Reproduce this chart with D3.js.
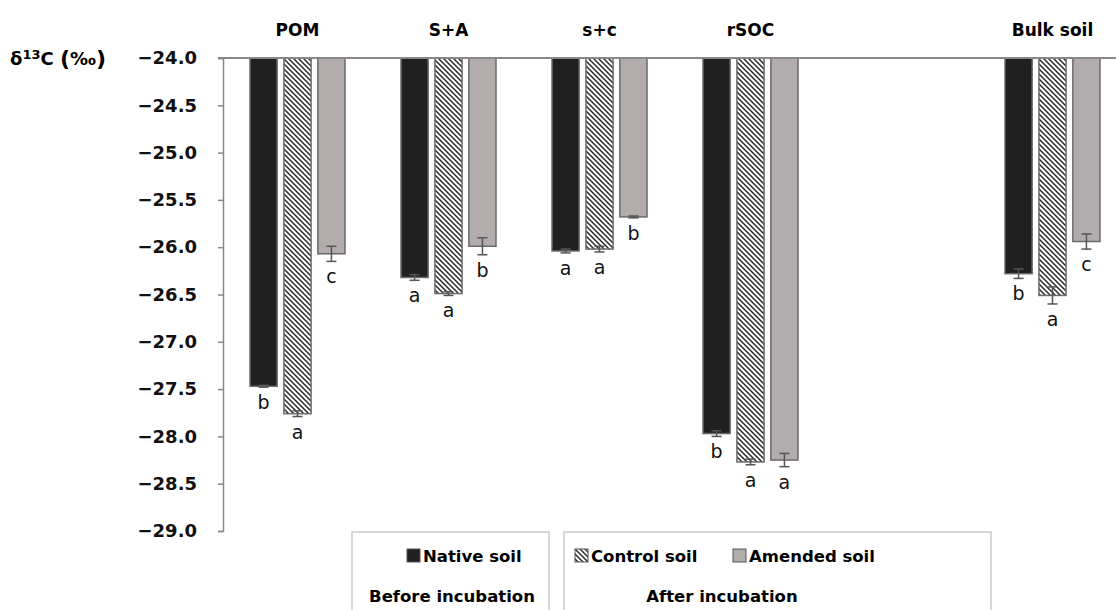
<!DOCTYPE html>
<html>
<head>
<meta charset="utf-8">
<script src="https://cdn.jsdelivr.net/npm/d3@7"></script>
<style>
  body { margin: 0; background: #fff; }
  text { font-family: "DejaVu Sans", Verdana, sans-serif; }
</style>
</head>
<body>
<script>
// Data
const groups = ["POM", "S+A", "s+c", "rSOC", "", "Bulk soil"];
const series = ["Native soil", "Control soil", "Amended soil"];
const native = [-27.47, -26.32, -26.04, -27.97, null, -26.28];
const control = [-27.76, -26.49, -26.02, -28.27, null, -26.51];
const amended = [-26.07, -25.99, -25.68, -28.25, null, -25.94];
const nativeErr = [0.01, 0.03, 0.02, 0.03, null, 0.05];
const controlErr = [0.03, 0.02, 0.03, 0.03, null, 0.09];
const amendedErr = [0.08, 0.09, 0.01, 0.07, null, 0.08];
const nativeLetters = ["b", "a", "a", "b", null, "b"];
const controlLetters = ["a", "a", "a", "a", null, "a"];
const amendedLetters = ["c", "b", "b", "a", null, "c"];
const yTicks = [-24.0, -24.5, -25.0, -25.5, -26.0, -26.5, -27.0, -27.5, -28.0, -28.5, -29.0];

const width = 1116, height = 610;

const svg = d3.select("body").append("svg")
    .attr("width", width)
    .attr("height", height);

// Hatch pattern for control soil
const defs = svg.append("defs");
const hatch = defs.append("pattern")
    .attr("id", "hatch")
    .attr("patternUnits", "userSpaceOnUse")
    .attr("width", 5)
    .attr("height", 5);
hatch.append("rect").attr("width", 5).attr("height", 5).attr("fill", "#fff");
hatch.append("path")
    .attr("d", "M0,0 L5,5 M-1,4 L1,6 M4,-1 L6,1")
    .attr("stroke", "#2a2a2a")
    .attr("stroke-width", 1.5);

const fills = {"Native soil": "#202020", "Control soil": "url(#hatch)", "Amended soil": "#b2acac"};

const x0 = d3.scaleBand().domain(groups).range([222, 1128]);
const x1 = d3.scaleBand().domain(series).range([28, 123]).paddingInner(0.2);
const y = d3.scaleLinear().domain([-24, -29]).range([58, 531]);

// Flatten to one record per bar
const rows = [];
groups.forEach((g, i) => {
    if (native[i] == null) return;
    rows.push({g, s: series[0], v: native[i], e: nativeErr[i], l: nativeLetters[i]});
    rows.push({g, s: series[1], v: control[i], e: controlErr[i], l: controlLetters[i]});
    rows.push({g, s: series[2], v: amended[i], e: amendedErr[i], l: amendedLetters[i]});
});

// Bars
svg.append("g").selectAll("rect")
    .data(rows)
    .enter().append("rect")
    .attr("x", d => x0(d.g) + x1(d.s))
    .attr("y", y(-24))
    .attr("width", x1.bandwidth())
    .attr("height", d => y(d.v) - y(-24))
    .attr("fill", d => fills[d.s])
    .attr("stroke", "#6a6a6a")
    .attr("stroke-width", 1.5);

// Error bars
const err = svg.append("g").selectAll("g")
    .data(rows)
    .enter().append("g")
    .attr("stroke", "#555")
    .attr("stroke-width", 1.5);
const cx = d => x0(d.g) + x1(d.s) + x1.bandwidth() / 2;
err.append("line")
    .attr("x1", cx).attr("x2", cx)
    .attr("y1", d => y(d.v - d.e)).attr("y2", d => y(d.v + d.e));
err.append("line")
    .attr("x1", d => cx(d) - 5).attr("x2", d => cx(d) + 5)
    .attr("y1", d => y(d.v - d.e)).attr("y2", d => y(d.v - d.e));
err.append("line")
    .attr("x1", d => cx(d) - 5).attr("x2", d => cx(d) + 5)
    .attr("y1", d => y(d.v + d.e)).attr("y2", d => y(d.v + d.e));

// Significance letters
svg.append("g").selectAll("text")
    .data(rows)
    .enter().append("text")
    .attr("x", cx)
    .attr("y", d => y(d.v - d.e) + 22)
    .attr("text-anchor", "middle")
    .style("font-size", "19px")
    .style("fill", "#111")
    .text(d => d.l);

// Top baseline
svg.append("line")
    .attr("x1", 218).attr("x2", width)
    .attr("y1", y(-24)).attr("y2", y(-24))
    .attr("stroke", "#888")
    .attr("stroke-width", 2);

// Y axis
const yAxis = svg.append("g")
    .attr("transform", "translate(223,0)")
    .call(d3.axisLeft(y).tickValues(yTicks).tickSize(5).tickPadding(21)
        .tickFormat(d => d3.format(".1f")(d).replace("-", "\u2212")));
yAxis.select(".domain").attr("stroke", "#888").attr("stroke-width", 1.5);
yAxis.selectAll(".tick line").attr("stroke", "#888").attr("stroke-width", 1.5);
yAxis.selectAll(".tick text")
    .style("font-family", "'DejaVu Sans', Verdana, sans-serif")
    .style("font-size", "18px")
    .style("font-weight", "bold")
    .attr("fill", "#111");

// Y axis title
const title = svg.append("text")
    .attr("x", 10).attr("y", 65)
    .style("font-size", "18px")
    .style("font-weight", "bold");
title.append("tspan").text("δ");
title.append("tspan").style("font-size", "13px").attr("dy", -6).text("13");
title.append("tspan").attr("dy", 6).text("C ");
title.append("tspan").style("font-size", "22px").attr("dy", 1).text("(");
title.append("tspan").attr("dy", -1).text("‰");
title.append("tspan").style("font-size", "22px").attr("dy", 1).text(")");

// Category labels
svg.append("g").selectAll("text")
    .data(groups.filter(g => g !== ""))
    .enter().append("text")
    .attr("x", g => x0(g) + x0.bandwidth() / 2)
    .attr("y", 36)
    .attr("text-anchor", "middle")
    .style("font-size", "17px")
    .style("font-weight", "bold")
    .text(g => g);

// Legend boxes
const legend = svg.append("g");
legend.append("rect")
    .attr("x", 352).attr("y", 532).attr("width", 197).attr("height", 90)
    .attr("fill", "none").attr("stroke", "#ccc").attr("stroke-width", 1.5);
legend.append("rect")
    .attr("x", 564).attr("y", 532).attr("width", 427).attr("height", 90)
    .attr("fill", "none").attr("stroke", "#ccc").attr("stroke-width", 1.5);

const legendItems = [
    {s: series[0], x: 407},
    {s: series[1], x: 575},
    {s: series[2], x: 733}
];
const li = legend.selectAll(".item")
    .data(legendItems)
    .enter().append("g")
    .attr("class", "item")
    .attr("transform", d => `translate(${d.x},549)`);
li.append("rect")
    .attr("width", 13).attr("height", 13)
    .attr("fill", d => fills[d.s])
    .attr("stroke", "#555").attr("stroke-width", 1);
li.append("text")
    .attr("x", 16).attr("y", 13)
    .style("font-size", "16.5px")
    .style("font-weight", "bold")
    .text(d => d.s);

legend.append("text")
    .attr("x", 452).attr("y", 602)
    .attr("text-anchor", "middle")
    .style("font-size", "16.5px")
    .style("font-weight", "bold")
    .text("Before incubation");
legend.append("text")
    .attr("x", 722).attr("y", 602)
    .attr("text-anchor", "middle")
    .style("font-size", "16.5px")
    .style("font-weight", "bold")
    .text("After incubation");
</script>
</body>
</html>
